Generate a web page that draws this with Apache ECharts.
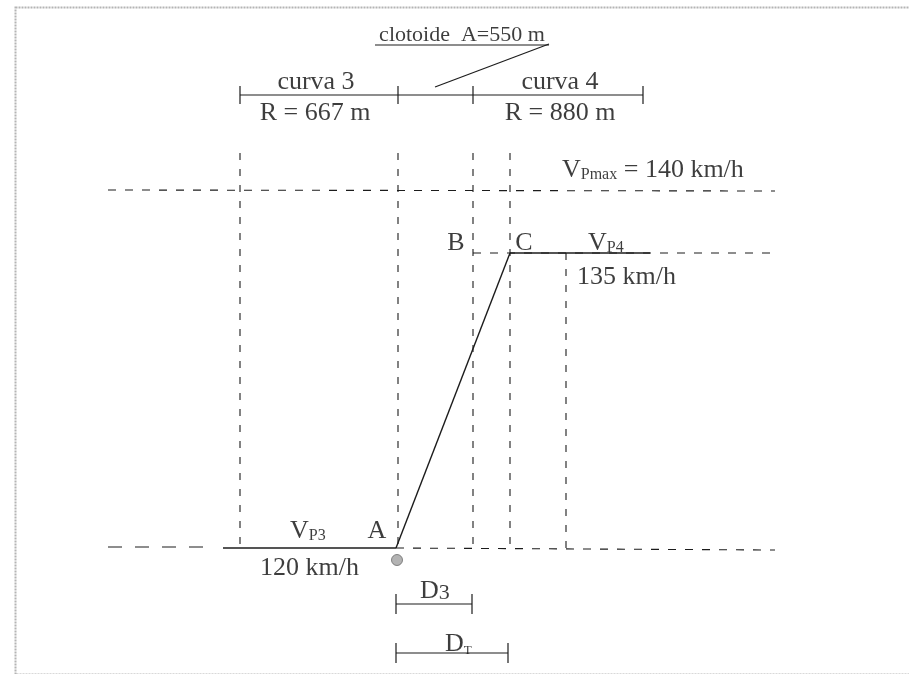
<!DOCTYPE html>
<html>
<head>
<meta charset="utf-8">
<script src="https://cdn.jsdelivr.net/npm/echarts@6/dist/echarts.min.js"></script>
<style>
html,body{margin:0;padding:0;background:#fff;}
#c{width:909px;height:674px;}
</style>
</head>
<body>
<div id="c"></div>
<script>
// Schematic speed diagram (diagram units: x = chainage position, y = speed level position)
const stationNames = ['inicio curva 3', 'A', 'B', 'C', 'fin DT'];
const stationX = [240, 398, 473, 510, 566];
const curveEndX = 643;              // end of curva 4
const speedNames = ['V_Pmax', 'V_P4', 'V_P3'];
const speedValues = [140, 135, 120]; // km/h
const speedY = [190, 253, 548];      // diagram level of each speed
const curveLabels = ['curva 3', 'curva 4'];
const radiusLabels = ['R = 667 m', 'R = 880 m'];
const clothoidLabel = 'clotoide  A=550 m';

const INK = '#0d0d0d';
const FONT = '"Liberation Serif", "DejaVu Serif", serif';

const series = [];
function seg(points, type, width, color) {
  series.push({
    type: 'line', data: points, showSymbol: false, symbol: 'none', silent: true,
    animation: false, z: 2,
    lineStyle: { color: color || '#1c1c1c', width: width || 1.2, type: type || 'solid' }
  });
}
const dashV = [7, 9];
const dashH = [8, 9];

// Top dimension line with ticks
const dimY = 95;
seg([[stationX[0], dimY], [curveEndX, dimY]]);
[stationX[0], stationX[1], stationX[2], curveEndX].forEach(x => seg([[x, dimY - 9], [x, dimY + 9]]));
// clothoid leader + underline
seg([[435, 87], [549, 44]]);
seg([[375, 45], [549, 45]]);

// Horizontal speed levels
seg([[108, speedY[0]], [775, speedY[0] + 1]], dashH, 1.1);          // Vmax
seg([[stationX[2], speedY[1]], [775, speedY[1]]], dashH, 1.1);     // VP4 dashed
seg([[stationX[3], speedY[1]], [650, speedY[1]]], 'solid', 1.4);   // VP4 solid
seg([[108, speedY[2] - 1], [215, speedY[2] - 1]], [14, 13], 1.1);  // VP3 left dashed
seg([[223, speedY[2]], [396, speedY[2]]], 'solid', 1.4);           // VP3 solid
seg([[396, speedY[2]], [775, speedY[2] + 2]], dashH, 1.1);         // VP3 right dashed

// Vertical dashed station lines
const vTop = 153;
[0, 1, 2, 3].forEach(i => seg([[stationX[i], vTop], [stationX[i], speedY[2]]], dashV, 1.1));
seg([[stationX[4], speedY[1]], [stationX[4], speedY[2] + 2]], dashV, 1.1);

// Acceleration line A -> C
seg([[396, speedY[2]], [stationX[3], speedY[1]]], 'solid', 1.4);

// D3 and DT dimension bars
const d3Y = 604, dtY = 653;
seg([[396, d3Y], [472, d3Y]]);
seg([[396, d3Y - 10], [396, d3Y + 10]]);
seg([[472, d3Y - 10], [472, d3Y + 10]]);
seg([[396, dtY], [508, dtY]]);
seg([[396, dtY - 10], [396, dtY + 10]]);
seg([[508, dtY - 10], [508, dtY + 10]]);

// Point A marker
series.push({
  type: 'scatter', data: [[397, 560]], symbolSize: 11, animation: false, z: 3,
  itemStyle: { color: '#a0a0a0', borderColor: '#6a6a6a', borderWidth: 1 }
});

// Labels
function lab(x, y, text, align) {
  return { value: [x, y], label: { formatter: text, align: align || 'center' } };
}
const labels = [
  lab(462, 35, '{c|' + clothoidLabel + '}'),
  lab(316, 80, '{m|' + curveLabels[0] + '}'),
  lab(315, 111, '{m|' + radiusLabels[0] + '}'),
  lab(560, 80, '{m|' + curveLabels[1] + '}'),
  lab(560, 111, '{m|' + radiusLabels[1] + '}'),
  lab(562, 168, '{m|V}{s|Pmax}{m| = ' + speedValues[0] + ' km/h}', 'left'),
  lab(456, 241, '{m|B}'),
  lab(524, 241, '{m|C}'),
  lab(588, 241, '{m|V}{s|P4}', 'left'),
  lab(577, 275, '{m|' + speedValues[1] + ' km/h}', 'left'),
  lab(290, 529, '{m|V}{s|P3}', 'left'),
  lab(377, 529, '{m|A}'),
  lab(260, 566, '{m|' + speedValues[2] + ' km/h}', 'left'),
  lab(420, 589, '{m|D}{d|3}', 'left'),
  lab(445, 642, '{m|D}{t|T}', 'left')
];
series.push({
  type: 'scatter', data: labels, symbolSize: 0, animation: false, silent: true, z: 4,
  label: {
    show: true, position: [0, 0], verticalAlign: 'middle', color: INK,
    fontFamily: FONT,
    rich: {
      m: { fontSize: 26, fontFamily: FONT, color: INK, lineHeight: 30, verticalAlign: 'bottom' },
      c: { fontSize: 22, fontFamily: FONT, color: INK, lineHeight: 26 },
      s: { fontSize: 16, fontFamily: FONT, color: INK, lineHeight: 16, verticalAlign: 'bottom' },
      d: { fontSize: 22, fontFamily: FONT, color: INK, lineHeight: 22, verticalAlign: 'bottom' },
      t: { fontSize: 13, fontFamily: FONT, color: INK, lineHeight: 14, verticalAlign: 'bottom' }
    }
  }
});

const chart = echarts.init(document.getElementById('c'), null, { renderer: 'canvas' });
chart.setOption({
  backgroundColor: '#ffffff',
  animation: false,
  grid: { left: 0, right: 0, top: 0, bottom: 0 },
  xAxis: { type: 'value', min: 0, max: 909, show: false },
  yAxis: { type: 'value', min: 0, max: 674, inverse: true, show: false },
  graphic: [{
    type: 'rect', left: 13, top: 5, silent: true,
    shape: { width: 1000, height: 667 },
    style: { fill: 'none', stroke: '#b4b4b4', lineWidth: 2, lineDash: [2, 1] }
  }],
  series: series
});
</script>
</body>
</html>
